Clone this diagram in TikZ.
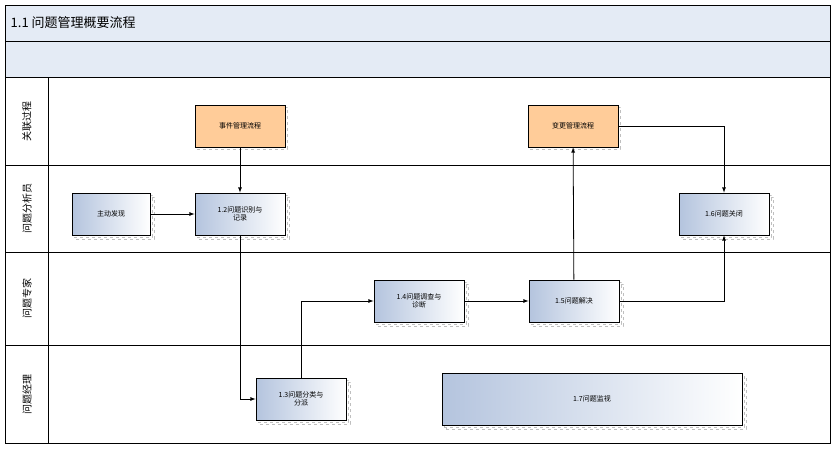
\documentclass[tikz,border=0pt]{standalone}
\usepackage{fontspec}
\newfontfamily\cjk{Noto Sans CJK SC}
\usetikzlibrary{positioning,shadows}

\definecolor{bandblue}{HTML}{E4EBF5}
\definecolor{boxblue}{HTML}{B4C4DE}
\definecolor{boxorange}{HTML}{FFCC99}

\tikzset{
    proc/.style={draw,thick,
        left color=boxblue,right color=white,
        minimum width=90pt,minimum height=42pt,
        align=center,font=\cjk\fontsize{7}{8}\selectfont,
        double copy shadow={shadow xshift=2pt,shadow yshift=-2pt,draw=gray!50,dashed,fill=white}},
    link/.style={draw,thick,fill=boxorange,
        minimum width=90pt,minimum height=42pt,
        align=center,font=\cjk\fontsize{7}{8}\selectfont,
        copy shadow={shadow xshift=2pt,shadow yshift=-2pt,draw=gray!50,dashed,fill=white}},
    lane/.style={rotate=90,font=\cjk\fontsize{10}{12}\selectfont}
}

\begin{document}
\begin{tikzpicture}[x=1pt,y=-1pt,thick,>=latex]
\useasboundingbox (0,0) rectangle (836,455);

% frame and bands
\fill[bandblue] (5,5) rectangle (830,77);
\draw (5,5) rectangle (830,443);
\draw (5,41) -- (830,41);
\draw (5,77) -- (830,77);
\draw (5,165) -- (830,165);
\draw (5,252) -- (830,252);
\draw (5,345) -- (830,345);
\draw (48,77) -- (48,443);

\node[anchor=west,font=\cjk\fontsize{13}{15}\selectfont] (title) at (7,23) {1.1 问题管理概要流程};

\node[lane] (lane1) at (27,121) {关联过程};
\node[lane] (lane2) at (27,208) {问题分析员};
\node[lane] (lane3) at (27,298) {问题专家};
\node[lane] (lane4) at (27,394) {问题经理};

% steps
\node[link] (block1) at (240,126) {事件管理流程};
\node[link] (block2) at (573,126) {变更管理流程};
\node[proc,minimum width=78pt] (block3) at (111,214) {主动发现};
\node[proc] (block4) at (240,214) {1.2问题识别与\\记录};
\node[proc] (block5) at (724,214) {1.6问题关闭};
\node[proc] (block6) at (419,301) {1.4问题调查与\\诊断};
\node[proc] (block7) at (574,301) {1.5问题解决};
\node[proc] (block8) at (301,399) {1.3问题分类与\\分派};
\node[proc,minimum width=300pt,minimum height=52pt] (block9) at (592,399) {1.7问题监视};

% connectors
\draw[->] (block1) -- (block4);
\draw[->] (block3) -- (block4);
\draw[->] (block4) |- (block8);
\draw[->] (block8) |- (block6);
\draw[->] (block6) -- (block7);
\draw[->] (block7) -- (block2);
\draw[->] (block2) -| (block5);
\draw[->] (block7) -| (block5);

\end{tikzpicture}
\end{document}
